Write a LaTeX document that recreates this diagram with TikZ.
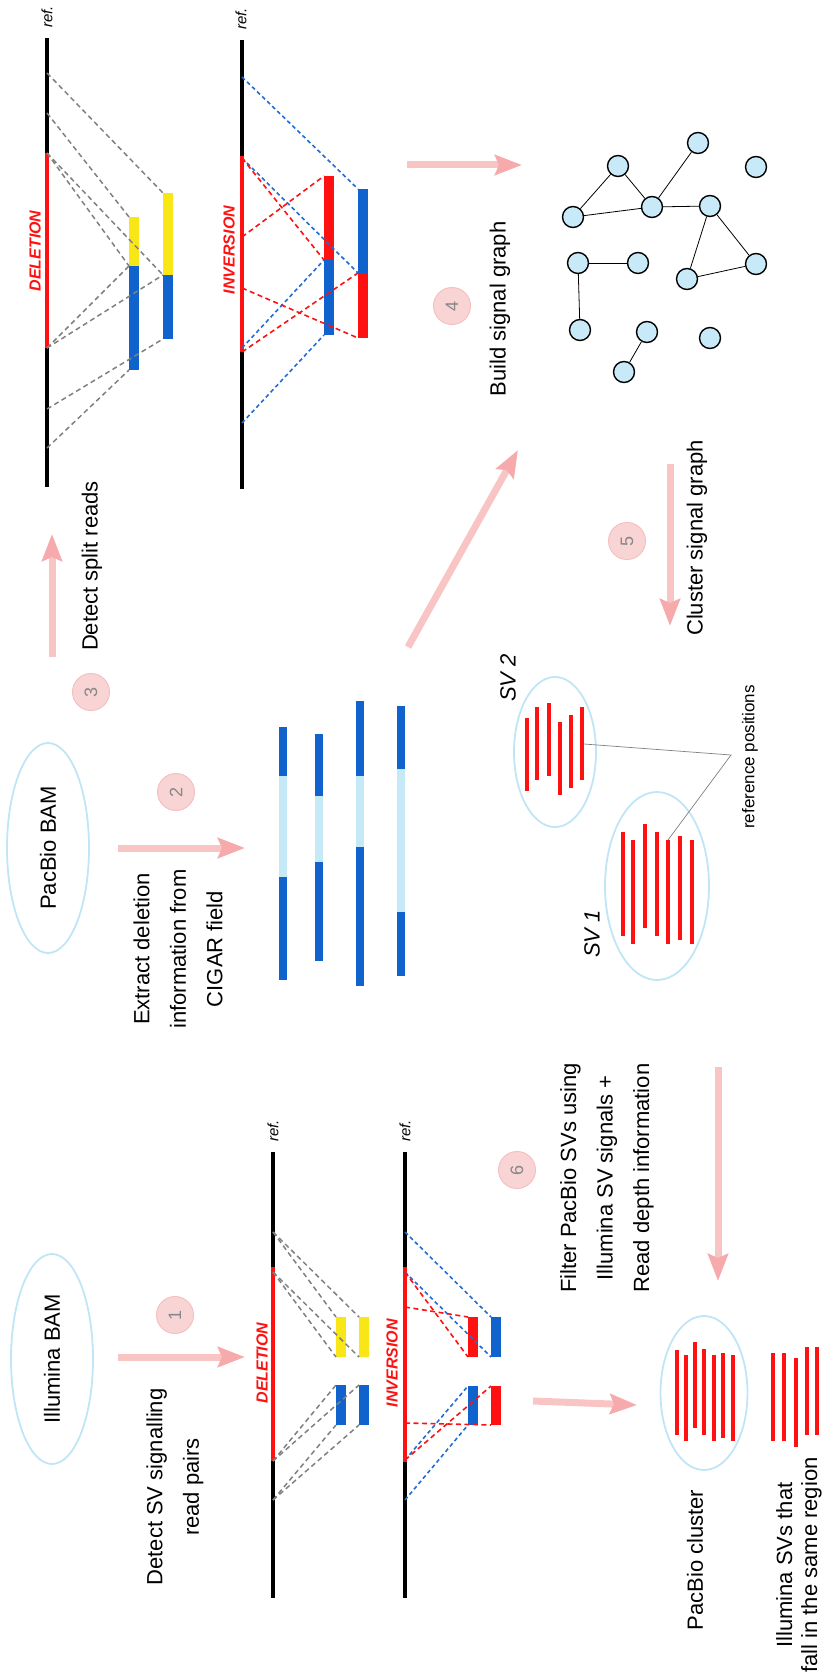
\documentclass[tikz,border=0pt]{standalone}
\usepackage{fontspec}
\setmainfont{Liberation Sans}
\usetikzlibrary{arrows.meta,shapes.geometric}

\definecolor{dnared}{RGB}{255,17,17}
\definecolor{readblue}{RGB}{16,98,204}
\definecolor{readyellow}{RGB}{248,230,22}
\definecolor{lightread}{RGB}{197,233,247}
\definecolor{ovalblue}{RGB}{192,229,246}
\definecolor{nodefill}{RGB}{200,234,248}
\definecolor{pinkshaft}{RGB}{249,196,196}
\definecolor{pinkhead}{RGB}{246,170,172}
\definecolor{steppink}{RGB}{249,212,212}
\definecolor{stepring}{RGB}{246,192,192}
\definecolor{stepnum}{RGB}{135,135,135}
\definecolor{dashgray}{RGB}{128,128,128}
\definecolor{dashblue}{RGB}{34,108,214}
\definecolor{dashred}{RGB}{255,34,34}

\tikzset{
  bigtxt/.style={rotate=90, inner sep=0pt, align=center, font=\fontsize{22}{36.5}\selectfont},
  smalltxt/.style={rotate=90, inner sep=0pt, font=\fontsize{17}{20}\selectfont},
  reftxt/.style={rotate=90, inner sep=0pt, font=\fontsize{15}{18}\selectfont\itshape},
  svtxt/.style={rotate=90, inner sep=0pt, font=\fontsize{22}{26}\selectfont\itshape},
  kindtxt/.style={rotate=90, inner sep=0pt, text=dnared, font=\fontsize{16}{18}\selectfont\bfseries\itshape},
  bamoval/.style={ellipse, draw=ovalblue, line width=1.8pt, rotate=90, inner sep=0pt,
    minimum width=210pt, minimum height=82pt, font=\fontsize{22}{26}\selectfont},
  groupoval/.style={ellipse, draw=ovalblue, line width=1.8pt, inner sep=0pt},
  stepdot/.style={circle, fill=steppink, draw=stepring, line width=1pt, minimum size=37pt,
    inner sep=0pt, rotate=90, text=stepnum, font=\fontsize{18}{20}\selectfont},
  flow/.style={draw=pinkshaft, line width=7pt,
    -{Stealth[length=27pt,width=20pt,inset=4pt,color=pinkhead]}},
  refline/.style={line width=4pt},
  pairdash/.style={draw=dashgray, line width=1.5pt, dash pattern=on 5pt off 3.5pt},
  bluedash/.style={draw=dashblue, line width=1.6pt, dash pattern=on 4pt off 3pt},
  reddash/.style={draw=dnared, line width=1.6pt, dash pattern=on 5pt off 3.5pt},
  sig/.style={draw=dnared, line width=3.5pt},
  gnode/.style={circle, draw=black, fill=nodefill, line width=1.4pt, minimum size=21pt, inner sep=0pt},
  gedge/.style={line width=0.8pt},
  leader/.style={draw=gray, line width=0.7pt},
}

\begin{document}
\begin{tikzpicture}[x=1pt,y=1pt,yscale=-1]
\useasboundingbox (0,0) rectangle (825,1680);

% Text Node
\node[bamoval] (ilbam) at (52,1359) {Illumina BAM};
\node[bamoval] (pbbam) at (48,848) {PacBio BAM};
% Text Node
\node[bigtxt] (detpairs) at (175,1487) {Detect SV signalling\\read pairs};
\node[bigtxt] (extract) at (178,949) {Extract deletion\\information from\\CIGAR field};
\node[bigtxt] (detsplit) at (92,566) {Detect split reads};
\node[bigtxt] (build) at (500,309) {Build signal graph};
\node[bigtxt] (cluster) at (697,538) {Cluster signal graph};
\node[bigtxt] (filter) at (607,1178) {Filter PacBio SVs using\\Illumina SV signals +\\Read depth information};
\node[bigtxt] (pbclus) at (695,1560) {PacBio cluster};
\node[bigtxt, font=\fontsize{22}{25}\selectfont] (ilsvs) at (799,1565) {Illumina SVs that\\fall in the same region};

% Step numbers
\node[stepdot] (s1) at (175,1315) {1};
\node[stepdot] (s2) at (176,792) {2};
\node[stepdot] (s3) at (91,692) {3};
\node[stepdot] (s4) at (452,306) {4};
\node[stepdot] (s5) at (627,541) {5};
\node[stepdot] (s6) at (517,1170) {6};

% Flow arrows
\coordinate (a1s) at (118,1357); \coordinate (a1e) at (245,1357);
\coordinate (a2s) at (118,848);  \coordinate (a2e) at (245,848);
\coordinate (a3s) at (52,657);   \coordinate (a3e) at (52,534);
\coordinate (a4s) at (407,165);  \coordinate (a4e) at (522,165);
\coordinate (a5s) at (408,647);  \coordinate (a5e) at (518,450);
\coordinate (a6s) at (670,464);  \coordinate (a6e) at (670,626);
\coordinate (a7s) at (718,1067); \coordinate (a7e) at (718,1281);
\coordinate (a8s) at (533,1401); \coordinate (a8e) at (637,1405);
\foreach \p in {a1,a2,a3,a4,a5,a6,a7,a8}
  \draw[flow] (\p s) -- (\p e);

% PacBio deletion
\draw[refline] (47,38) -- (47,487);
\draw[refline, dnared] (47,153) -- (47,348);
\node[reftxt] (pdref) at (47,17) {ref.};
\node[kindtxt] (pdkind) at (35,251) {DELETION};
\fill[readyellow] (129,217) rectangle (138.5,266);
\fill[readblue] (129,266) rectangle (138.5,370);
\fill[readyellow] (163,193) rectangle (172.5,275);
\fill[readblue] (163,275) rectangle (172.5,339);
\coordinate (pd1) at (47,73);  \coordinate (pd2) at (47,113);
\coordinate (pd3) at (47,153); \coordinate (pd4) at (47,348);
\coordinate (pd5) at (47,409); \coordinate (pd6) at (47,448);
\coordinate (pA1) at (129,217); \coordinate (pA2) at (129,266); \coordinate (pA3) at (129,370);
\coordinate (pB1) at (163,193); \coordinate (pB2) at (163,275); \coordinate (pB3) at (163,339);
\foreach \a/\b in {pd1/pB1, pd2/pA1, pd3/pA2, pd3/pB2, pd4/pA2, pd4/pB2, pd5/pB3, pd6/pA3}
  \draw[pairdash] (\a) -- (\b);

% PacBio inversion
\draw[refline] (242,40) -- (242,489);
\draw[refline, dnared] (242,156) -- (242,352);
\node[reftxt] (piref) at (241,19) {ref.};
\node[kindtxt] (pikind) at (229,250) {INVERSION};
\fill[dnared] (324,176) rectangle (333.5,260);
\fill[readblue] (324,260) rectangle (333.5,335);
\fill[readblue] (358,189) rectangle (367.5,273);
\fill[dnared] (358,273) rectangle (367.5,338);
\coordinate (pi1) at (242,77);  \coordinate (pi2) at (242,158);
\coordinate (pi3) at (242,237); \coordinate (pi4) at (242,288);
\coordinate (pi5) at (242,348); \coordinate (pi6) at (242,352);
\coordinate (pi7) at (242,423);
\coordinate (pC1) at (324,176); \coordinate (pC2) at (324,260); \coordinate (pC3) at (324,335);
\coordinate (pD1) at (358,189); \coordinate (pD2) at (358,273); \coordinate (pD3) at (358,338);
\foreach \a/\b in {pi1/pD1, pi2/pD2, pi5/pC2, pi7/pC3}
  \draw[bluedash] (\a) -- (\b);
\foreach \a/\b in {pi2/pC2, pi3/pC1, pi4/pD3, pi6/pD2}
  \draw[reddash] (\a) -- (\b);

% Illumina deletion
\draw[refline] (273,1152) -- (273,1598);
\draw[refline, dnared] (273,1267) -- (273,1461);
\node[reftxt] (idref) at (273,1131) {ref.};
\node[kindtxt] (idkind) at (262,1363) {DELETION};
\fill[readyellow] (336,1317) rectangle (345.5,1357);
\fill[readblue] (336,1385) rectangle (345.5,1425);
\fill[readyellow] (359,1317) rectangle (368.5,1357);
\fill[readblue] (359,1385) rectangle (368.5,1425);
\coordinate (id1) at (273,1232); \coordinate (id2) at (273,1272);
\coordinate (id3) at (273,1461); \coordinate (id4) at (273,1500);
\foreach \r/\x in {iA/336, iB/359} {
  \coordinate (\r1) at (\x,1317); \coordinate (\r2) at (\x,1357);
  \coordinate (\r3) at (\x,1385); \coordinate (\r4) at (\x,1425);
}
\foreach \a/\b in {id1/iA1, id1/iB1, id2/iA2, id2/iB2, id3/iA3, id3/iB3, id4/iA4, id4/iB4}
  \draw[pairdash] (\a) -- (\b);

% Illumina inversion
\draw[refline] (405,1152) -- (405,1598);
\draw[refline, dnared] (405,1267) -- (405,1462);
\node[reftxt] (iiref) at (405,1131) {ref.};
\node[kindtxt] (iikind) at (392,1363) {INVERSION};
\fill[dnared] (468,1317) rectangle (477.5,1357);
\fill[readblue] (468,1386) rectangle (477.5,1425);
\fill[readblue] (491,1317) rectangle (500.5,1357);
\fill[dnared] (491,1386) rectangle (500.5,1425);
\coordinate (ii1) at (405,1232); \coordinate (ii2) at (405,1272);
\coordinate (ii3) at (405,1307); \coordinate (ii4) at (405,1423);
\coordinate (ii5) at (405,1460); \coordinate (ii6) at (405,1500);
\foreach \r/\x in {iE/468, iF/491} {
  \coordinate (\r1) at (\x,1317); \coordinate (\r2) at (\x,1357);
  \coordinate (\r3) at (\x,1386); \coordinate (\r4) at (\x,1425);
}
\foreach \a/\b in {ii1/iF1, ii2/iF2, ii5/iE3, ii6/iE4}
  \draw[bluedash] (\a) -- (\b);
\foreach \a/\b in {ii2/iE2, ii3/iE1, ii4/iF4, ii5/iF3}
  \draw[reddash] (\a) -- (\b);

% PacBio reads with CIGAR deletions
\foreach \x/\ya/\yb/\yc/\yd in {283/727/776/877/980, 319/734/796/862/961, 360/701/776/847/986, 401/706/769/912/976} {
  \draw[line width=8pt, readblue] (\x,\ya) -- (\x,\yb);
  \draw[line width=8pt, lightread] (\x,\yb) -- (\x,\yc);
  \draw[line width=8pt, readblue] (\x,\yc) -- (\x,\yd);
}

% Signal graph
\node[gnode] (n1) at (698,143) {};
\node[gnode] (n2) at (756,167) {};
\node[gnode] (n3) at (618,166) {};
\node[gnode] (n4) at (652,207) {};
\node[gnode] (n5) at (710,206) {};
\node[gnode] (n6) at (573,217) {};
\node[gnode] (n7) at (578,263) {};
\node[gnode] (n8) at (638,263) {};
\node[gnode] (n9) at (756,264) {};
\node[gnode] (n10) at (687,279) {};
\node[gnode] (n11) at (580,330) {};
\node[gnode] (n12) at (647,332) {};
\node[gnode] (n13) at (710,338) {};
\node[gnode] (n14) at (624,372) {};
\foreach \a/\b in {n6/n3, n3/n4, n6/n4, n4/n1, n4/n5, n5/n10, n5/n9, n10/n9, n7/n8, n7/n11, n12/n14}
  \draw[gedge] (\a) -- (\b);

% Clustered SVs
\node[groupoval, minimum width=82pt, minimum height=150pt] (sv2oval) at (555,752) {};
\node[groupoval, minimum width=104pt, minimum height=188pt] (sv1oval) at (657,886) {};
\node[svtxt] (sv2lab) at (508,678) {SV 2};
\node[svtxt] (sv1lab) at (592,934) {SV 1};
\foreach \x/\ya/\yb in {527/718/791, 537/707/780, 549/703/776, 560/722/795, 571/715/788, 582/707/780}
  \draw[sig] (\x,\ya) -- (\x,\yb);
\foreach \x/\ya/\yb in {623/832/936, 633/840/944, 645/824/928, 657/832/936, 668/840/944, 680/836/940, 692/840/944}
  \draw[sig] (\x,\ya) -- (\x,\yb);
\node[smalltxt] (refpos) at (750,757) {reference positions};
\coordinate (refpt) at (731,755);
\coordinate (sv2pt) at (584,744);
\coordinate (sv1pt) at (668,840);
\draw[leader] (sv2pt) -- (refpt) -- (sv1pt);

% Final comparison
\node[groupoval, minimum width=87pt, minimum height=154pt] (pboval) at (704,1393) {};
\foreach \x/\ya/\yb in {677/1350/1435, 686/1355/1441, 695/1342/1428, 704/1349/1435, 714/1355/1441, 723/1353/1438, 733/1355/1441}
  \draw[sig] (\x,\ya) -- (\x,\yb);
\foreach \x/\ya/\yb in {773/1353/1441, 784/1353/1441, 796/1358/1447, 807/1347/1435, 817/1347/1435}
  \draw[sig] (\x,\ya) -- (\x,\yb);

\end{tikzpicture}
\end{document}
